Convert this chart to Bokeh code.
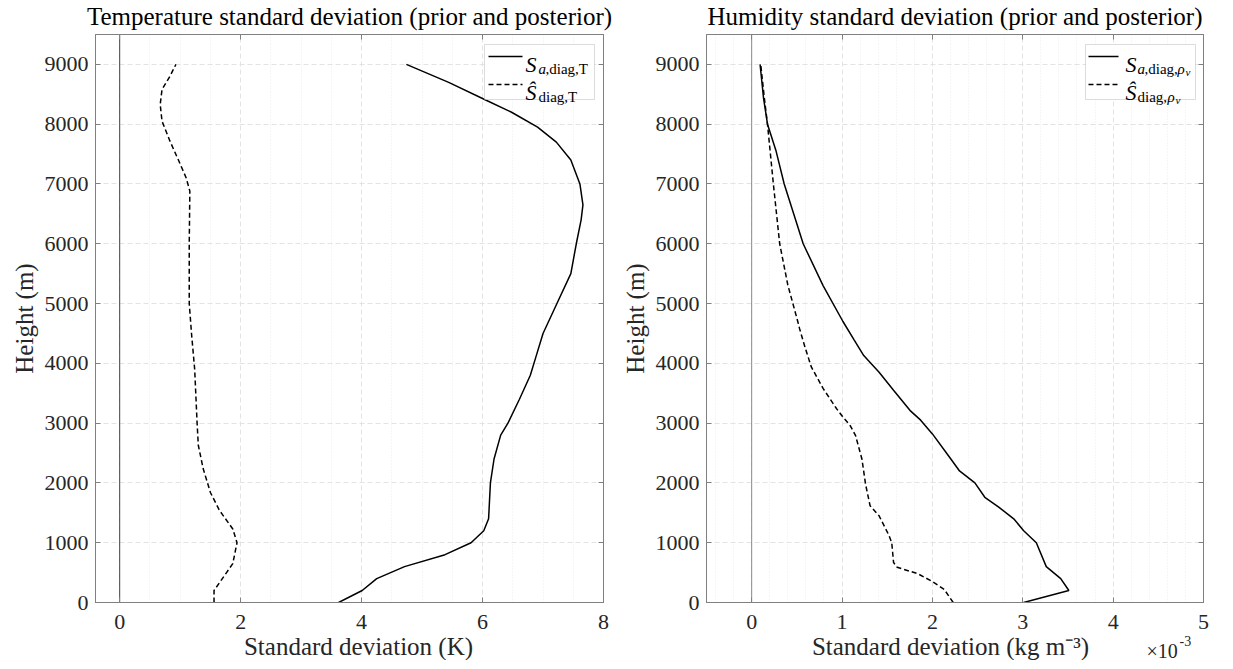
from bokeh.plotting import figure
from bokeh.layouts import row, column
from bokeh.models import (Range1d, LinearAxis, FixedTicker, Span, Label, Title,
                          BoxAnnotation, Arrow, CustomJSTickFormatter)
from bokeh.embed import file_html
from bokeh.resources import INLINE

# ---------------- data ----------------
# Temperature: prior std (S_a,diag,T) and posterior std (Ŝ_diag,T), in K
temp_prior_h = [0, 200, 400, 600, 800, 1000, 1200, 1400, 2000, 2400, 2800, 3000,
                3400, 3800, 4100, 4500, 5000, 5500, 6000, 6400, 6650, 7000, 7400,
                7700, 7950, 8200, 8400, 8700, 9000]
temp_prior = [3.62, 4.01, 4.25, 4.71, 5.38, 5.81, 6.02, 6.10, 6.13, 6.19, 6.30, 6.42,
              6.61, 6.79, 6.88, 7.00, 7.23, 7.46, 7.55, 7.63, 7.66, 7.61, 7.46,
              7.22, 6.91, 6.48, 6.06, 5.44, 4.74]
temp_post_h = [0, 200, 650, 1000, 1230, 1540, 1840, 2240, 2630, 3000, 3900, 4470,
               5000, 6000, 6880, 7100, 7380, 7720, 8050, 8330, 8580, 8800, 9000]
temp_post = [1.56, 1.56, 1.87, 1.94, 1.87, 1.65, 1.50, 1.38, 1.30, 1.28, 1.24, 1.19,
             1.15, 1.15, 1.16, 1.10, 0.98, 0.83, 0.70, 0.67, 0.70, 0.83, 0.93]

# Humidity: prior / posterior std, in units of 1e-3 kg m^-3
hum_prior_h = [0, 200, 400, 600, 1000, 1200, 1400, 1600, 1760, 2000, 2200, 2430,
               2820, 3050, 3200, 3550, 3850, 4130, 4400, 4700, 5300, 6000, 7000,
               7550, 8000, 8450, 9000]
hum_prior = [3.01, 3.51, 3.42, 3.26, 3.15, 3.01, 2.90, 2.73, 2.58, 2.47, 2.30, 2.19,
             2.00, 1.87, 1.76, 1.57, 1.41, 1.24, 1.13, 1.01, 0.79, 0.57, 0.36,
             0.27, 0.175, 0.13, 0.093]
hum_post_h = [0, 220, 360, 480, 590, 670, 1000, 1120, 1450, 1620, 1980, 2400, 2790,
              2960, 3100, 3240, 3580, 3940, 4270, 4580, 4700, 5310, 6000, 7000,
              8000, 8440, 9000]
hum_post = [2.23, 2.13, 1.99, 1.84, 1.61, 1.57, 1.55, 1.52, 1.41, 1.31, 1.26, 1.22, 1.15,
            1.09, 1.01, 0.94, 0.79, 0.66, 0.59, 0.53, 0.51, 0.40, 0.31, 0.24,
            0.175, 0.14, 0.10]

temp_xticks = [0, 2, 4, 6, 8]
temp_xminor = [0.5, 1, 1.5, 2.5, 3, 3.5, 4.5, 5, 5.5, 6.5, 7, 7.5]
hum_xticks = [0, 1, 2, 3, 4, 5]
hum_xminor = [-0.4, -0.2, 0.2, 0.4, 0.6, 0.8, 1.2, 1.4, 1.6, 1.8, 2.2, 2.4, 2.6, 2.8,
              3.2, 3.4, 3.6, 3.8, 4.2, 4.4, 4.6, 4.8]
y_ticks = [0, 1000, 2000, 3000, 4000, 5000, 6000, 7000, 8000, 9000]

# ---------------- styling ----------------
FONT = "Liberation Serif"
GRAY = "#808080"
TXT = "#262626"
FRAME_H = 568


def style_axis(ax, ticker, labels=True):
    ax.ticker = ticker
    ax.axis_line_color = GRAY
    ax.major_tick_line_color = GRAY
    ax.major_tick_in = 5
    ax.major_tick_out = 0
    ax.minor_tick_line_color = None
    ax.major_label_text_font = FONT
    ax.major_label_text_font_size = "22px"
    ax.major_label_text_color = TXT
    if not labels:
        ax.formatter = CustomJSTickFormatter(code="return ''")
        ax.major_label_standoff = 0


def make_fig(xr, xticks, xminor, title, frame_w, bl, br, zero_color):
    p = figure(frame_width=frame_w, frame_height=FRAME_H,
               x_range=Range1d(*xr), y_range=Range1d(0, 9500),
               output_backend="svg", toolbar_location=None,
               min_border_left=bl, min_border_right=br,
               min_border_top=33, min_border_bottom=35,
               title=title)
    p.title.text_font = FONT
    p.title.text_font_size = "25px"
    p.title.text_font_style = "normal"
    p.title.text_color = "black"
    p.title.align = "center"
    p.title.standoff = 1
    p.outline_line_color = GRAY
    p.outline_line_width = 1
    xt = FixedTicker(ticks=xticks, minor_ticks=xminor)
    yt = FixedTicker(ticks=y_ticks)
    style_axis(p.xaxis[0], xt)
    style_axis(p.yaxis[0], yt)
    p.xaxis[0].major_label_standoff = 8
    p.yaxis[0].major_label_standoff = 7
    top = LinearAxis()
    style_axis(top, xt, labels=False)
    p.add_layout(top, "above")
    right = LinearAxis()
    style_axis(right, yt, labels=False)
    p.add_layout(right, "right")
    p.add_layout(Title(text="Height (m)", align="center", text_font=FONT,
                       text_font_size="25px", text_font_style="normal",
                       text_color=TXT, standoff=8), "left")
    for g in (p.xgrid[0], p.ygrid[0]):
        g.grid_line_color = "#e3e3e3"
        g.grid_line_dash = "5 3"
        g.grid_line_width = 1
    p.xgrid[0].ticker = xt
    p.ygrid[0].ticker = yt
    p.xgrid[0].minor_grid_line_color = "#ececec"
    p.xgrid[0].minor_grid_line_dash = "1 2"
    p.ygrid[0].minor_grid_line_color = None
    p.add_layout(Span(location=0, dimension="height", line_color=zero_color,
                      line_width=1, level="underlay"))
    return p


def txt(p, x, y, s, size, italic=False, color="black", align="left"):
    p.add_layout(Label(x=x, y=y, x_units="screen", y_units="screen", text=s,
                       text_font=FONT, text_font_size=f"{size}px",
                       text_font_style="italic" if italic else "normal",
                       text_align=align,
                       text_baseline="alphabetic", text_color=color))


def legend_frame(p, left, right, top, bottom, lx0, lx1, y1, y2):
    p.add_layout(BoxAnnotation(left=left, right=right, top=top, bottom=bottom,
                               left_units="screen", right_units="screen",
                               top_units="screen", bottom_units="screen",
                               fill_color="white", fill_alpha=1.0,
                               line_color="#8c8c8c", line_width=1))
    p.add_layout(Arrow(end=None, x_start=lx0, y_start=y1, x_end=lx1, y_end=y1,
                       start_units="screen", end_units="screen",
                       line_color="black", line_width=1.5))
    p.add_layout(Arrow(end=None, x_start=lx0, y_start=y2, x_end=lx1, y_end=y2,
                       start_units="screen", end_units="screen",
                       line_color="black", line_width=1.5, line_dash="5 3"))


# ---------------- left: temperature ----------------
p1 = make_fig((-0.4, 8), temp_xticks, temp_xminor,
              "Temperature standard deviation (prior and posterior)",
              508, 95, 12, "#404040")
p1.line(temp_prior, temp_prior_h, line_color="black", line_width=1.5)
p1.line(temp_post, temp_post_h, line_color="black", line_width=1.5, line_dash="5 3")

legend_frame(p1, 389, 499, 558, 503, 393, 427, 546, 518)
txt(p1, 430, 538, "S", 22, italic=True)
txt(p1, 443, 534, "a", 15, italic=True)
txt(p1, 450, 534, ",diag,T", 15)
txt(p1, 430, 510, "Ŝ", 22, italic=True)
txt(p1, 443, 506, "diag,T", 15)

# ---------------- right: humidity ----------------
p2 = make_fig((-0.5, 5), hum_xticks, hum_xminor,
              "Humidity standard deviation (prior and posterior)",
              497, 87, 30, "#8a8a8a")
p2.line(hum_prior, hum_prior_h, line_color="black", line_width=1.5)
p2.line(hum_post, hum_post_h, line_color="black", line_width=1.5, line_dash="5 3")

legend_frame(p2, 379, 489, 558, 503, 382, 412, 546, 518)
txt(p2, 419, 538, "S", 22, italic=True)
txt(p2, 431, 534, "a", 15, italic=True)
txt(p2, 438, 534, ",diag,", 15)
txt(p2, 471, 534, "ρ", 15, italic=True)
txt(p2, 479, 531, "v", 11, italic=True)
txt(p2, 419, 510, "Ŝ", 22, italic=True)
txt(p2, 431, 506, "diag,", 15)
txt(p2, 461, 506, "ρ", 15, italic=True)
txt(p2, 469, 503, "v", 11, italic=True)

# ---------------- bottom strip with the x-axis titles ----------------
strip = figure(width=1229, height=35, x_range=Range1d(0, 1), y_range=Range1d(0, 1),
               output_backend="svg", toolbar_location=None, title=None,
               x_axis_location=None, y_axis_location=None,
               min_border_left=0, min_border_right=0, min_border_top=0,
               min_border_bottom=0, outline_line_color=None)
strip.grid.visible = False
strip.background_fill_alpha = 0
strip.border_fill_alpha = 0
strip.margin = (-12, 0, 0, 0)
txt(strip, 358, 14, "Standard deviation (K)", 25, color=TXT, align="center")
txt(strip, 950, 14, "Standard deviation (kg m⁻³)", 25, color=TXT, align="center")
txt(strip, 1146, 10, "×10", 20, color=TXT)
txt(strip, 1179, 20, "-3", 14, color=TXT)

layout = column(row(p1, p2), strip)
open("out.html", "w").write(file_html(layout, INLINE))
